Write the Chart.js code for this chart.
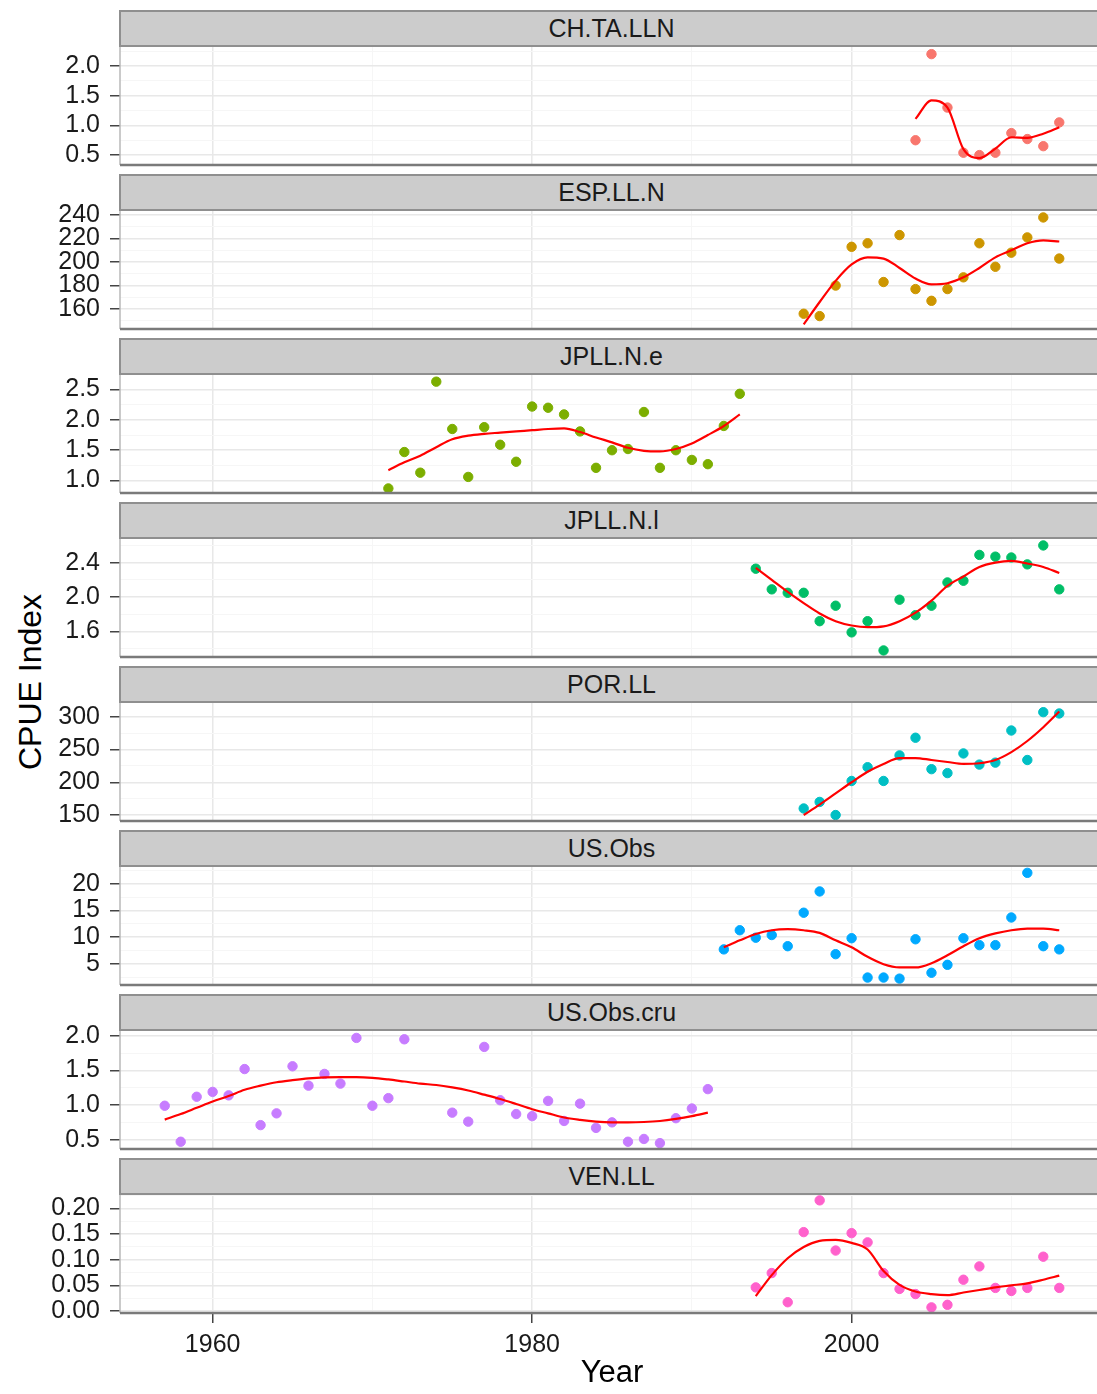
<!DOCTYPE html>
<html>
<head>
<meta charset="utf-8">
<title>CPUE Index by fleet</title>
<script src="https://cdn.jsdelivr.net/npm/chart.js@4.4.1/dist/chart.umd.min.js"></script>
<style>
  html, body { margin: 0; padding: 0; background: #fff; overflow: hidden; }
  body { width: 1097px; height: 1394px; position: relative; font-family: 'Liberation Sans', Arial, sans-serif; }
  .panel { position: absolute; left: 0; width: 1110px; }
  .panel canvas { display: block; }
  .strip {
    position: absolute; left: 119px; width: 985px; height: 37px; box-sizing: border-box;
    background: #cccccc; border: 2px solid #8f8f8f; color: #1a1a1a;
    font-size: 25px; line-height: 33px; text-align: center;
  }
  #ytitle {
    position: absolute; left: 30px; top: 682px; transform: translate(-50%, -50%) rotate(-90deg);
    font-size: 32px; color: #000; white-space: nowrap;
  }
</style>
</head>
<body>
<div id="ytitle">CPUE Index</div>
<script>
// facet labels, in plotting order
const fleets = ['CH.TA.LLN', 'ESP.LL.N', 'JPLL.N.e', 'JPLL.N.l', 'POR.LL', 'US.Obs', 'US.Obs.cru', 'VEN.LL'];
const fleetColors = ['#F8766D', '#CD9600', '#7CAE00', '#00BE67', '#00BFC4', '#00A9FF', '#C77CFF', '#FF61CC'];

// shared year axis
const yearTicks = [1960, 1980, 2000];
const yearMinor = [1970, 1990, 2010];

// CH.TA.LLN
const chYears  = [2004, 2005, 2006, 2007, 2008, 2009, 2010, 2011, 2012, 2013];
const chCpue   = [0.75, 2.2, 1.3, 0.54, 0.5, 0.54, 0.87, 0.77, 0.65, 1.05];
const chSmooth = [1.11, 1.42, 1.3, 0.6, 0.45, 0.61, 0.8, 0.79, 0.86, 0.97];
const chTicks  = ['0.5', '1.0', '1.5', '2.0'];
const chMinor  = [0.75, 1.25, 1.75, 2.25];

// ESP.LL.N
const espYears  = [1997, 1998, 1999, 2000, 2001, 2002, 2003, 2004, 2005, 2006, 2007, 2008, 2009, 2010, 2011, 2012, 2013];
const espCpue   = [156, 154, 180, 213, 216, 183, 223, 177, 167, 177, 187, 216, 196, 208, 221, 238, 203];
const espSmooth = [147, 166, 184, 198, 204, 203, 195, 186, 181, 182, 187, 195, 204, 210, 216, 218.5, 217.5];
const espTicks  = ['160', '180', '200', '220', '240'];
const espMinor  = [150, 170, 190, 210, 230];

// JPLL.N.e
const jpeYears  = [1971, 1972, 1973, 1974, 1975, 1976, 1977, 1978, 1979, 1980, 1981, 1982,
                   1983, 1984, 1985, 1986, 1987, 1988, 1989, 1990, 1991, 1992, 1993];
const jpeCpue   = [0.87, 1.47, 1.13, 2.63, 1.85, 1.06, 1.88, 1.59, 1.31, 2.22, 2.2, 2.09,
                   1.81, 1.21, 1.5, 1.52, 2.13, 1.21, 1.5, 1.34, 1.27, 1.9, 2.43];
const jpeSmooth = [1.17, 1.3, 1.41, 1.55, 1.68, 1.74, 1.77, 1.79, 1.81, 1.83, 1.85, 1.86,
                   1.8, 1.71, 1.63, 1.54, 1.49, 1.48, 1.52, 1.61, 1.75, 1.9, 2.09];
const jpeTicks  = ['1.0', '1.5', '2.0', '2.5'];
const jpeMinor  = [1.25, 1.75, 2.25];

// JPLL.N.l
const jplYears  = [1994, 1995, 1996, 1997, 1998, 1999, 2000, 2001, 2002, 2003,
                   2004, 2005, 2006, 2007, 2008, 2009, 2010, 2011, 2012, 2013];
const jplCpue   = [2.33, 2.09, 2.05, 2.05, 1.72, 1.9, 1.59, 1.72, 1.38, 1.97,
                   1.79, 1.9, 2.17, 2.19, 2.49, 2.47, 2.46, 2.38, 2.6, 2.09];
const jplSmooth = [2.34, 2.2, 2.06, 1.93, 1.81, 1.72, 1.67, 1.65, 1.66, 1.72,
                   1.82, 1.96, 2.13, 2.24, 2.35, 2.4, 2.42, 2.39, 2.35, 2.28];
const jplTicks  = ['1.6', '2.0', '2.4'];
const jplMinor  = [1.4, 1.8, 2.2, 2.6];

// POR.LL
const porYears  = [1997, 1998, 1999, 2000, 2001, 2002, 2003, 2004, 2005, 2006, 2007, 2008, 2009, 2010, 2011, 2012, 2013];
const porCpue   = [160, 170, 150, 202, 223, 202, 241, 268, 220, 214, 244, 227, 230, 279, 234, 307, 305];
const porSmooth = [150, 166, 183, 200, 216, 228, 237, 237, 234, 231, 228, 229, 234, 246, 263, 284, 308];
const porTicks  = ['150', '200', '250', '300'];
const porMinor  = [175, 225, 275];

// US.Obs
const usYears  = [1992, 1993, 1994, 1995, 1996, 1997, 1998, 1999, 2000, 2001, 2002,
                  2003, 2004, 2005, 2006, 2007, 2008, 2009, 2010, 2011, 2012, 2013];
const usCpue   = [7.7, 11.3, 9.9, 10.4, 8.3, 14.6, 18.6, 6.8, 9.8, 2.4, 2.4,
                  2.2, 9.6, 3.3, 4.8, 9.8, 8.5, 8.5, 13.7, 22.1, 8.3, 7.7];
const usSmooth = [8.1, 9.4, 10.6, 11.3, 11.5, 11.3, 10.8, 9.4, 8.1, 6.3, 4.9,
                  4.3, 4.3, 5.1, 6.6, 8.3, 9.8, 10.7, 11.3, 11.6, 11.6, 11.3];
const usTicks  = ['5', '10', '15', '20'];
const usMinor  = [2.5, 7.5, 12.5, 17.5, 22.5];

// US.Obs.cru (no values for 1973, 1974)
const cruYears  = [1957, 1958, 1959, 1960, 1961, 1962, 1963, 1964, 1965, 1966, 1967, 1968,
                   1969, 1970, 1971, 1972, 1973, 1974, 1975, 1976, 1977, 1978, 1979, 1980,
                   1981, 1982, 1983, 1984, 1985, 1986, 1987, 1988, 1989, 1990, 1991];
const cruCpue   = [0.99, 0.47, 1.12, 1.19, 1.14, 1.52, 0.71, 0.88, 1.56, 1.28, 1.45, 1.31,
                   1.97, 0.99, 1.1, 1.95, null, null, 0.89, 0.76, 1.84, 1.07, 0.87, 0.84,
                   1.06, 0.77, 1.02, 0.67, 0.75, 0.47, 0.51, 0.45, 0.81, 0.95, 1.23];
const cruSmooth = [0.79, 0.87, 0.96, 1.05, 1.13, 1.22, 1.28, 1.33, 1.36, 1.385, 1.4, 1.404,
                   1.404, 1.394, 1.37, 1.34, 1.31, 1.29, 1.255, 1.21, 1.15, 1.087, 1.015, 0.94,
                   0.88, 0.82, 0.785, 0.76, 0.75, 0.75, 0.755, 0.77, 0.8, 0.84, 0.89];
const cruTicks  = ['0.5', '1.0', '1.5', '2.0'];
const cruMinor  = [0.75, 1.25, 1.75];

// VEN.LL
const venYears  = [1994, 1995, 1996, 1997, 1998, 1999, 2000, 2001, 2002, 2003,
                   2004, 2005, 2006, 2007, 2008, 2009, 2010, 2011, 2012, 2013];
const venCpue   = [0.046, 0.074, 0.017, 0.154, 0.216, 0.118, 0.152, 0.134, 0.074, 0.043,
                   0.033, 0.007, 0.012, 0.061, 0.087, 0.045, 0.039, 0.045, 0.106, 0.045];
const venSmooth = [0.029, 0.07, 0.103, 0.125, 0.137, 0.139, 0.133, 0.12, 0.078, 0.051,
                   0.038, 0.033, 0.031, 0.036, 0.041, 0.046, 0.05, 0.054, 0.061, 0.069];
const venTicks  = ['0.00', '0.05', '0.10', '0.15', '0.20'];
const venMinor  = [0.025, 0.075, 0.125, 0.175, 0.225];

// free y range of each facet
const panels = [
  { years: chYears,  cpue: chCpue,  smooth: chSmooth,  ticks: chTicks,  minor: chMinor,  min: 0.333, max: 2.32 },
  { years: espYears, cpue: espCpue, smooth: espSmooth, ticks: espTicks, minor: espMinor, min: 143,   max: 243.5 },
  { years: jpeYears, cpue: jpeCpue, smooth: jpeSmooth, ticks: jpeTicks, minor: jpeMinor, min: 0.795, max: 2.74 },
  { years: jplYears, cpue: jplCpue, smooth: jplSmooth, ticks: jplTicks, minor: jplMinor, min: 1.304, max: 2.675 },
  { years: porYears, cpue: porCpue, smooth: porSmooth, ticks: porTicks, minor: porMinor, min: 140.9, max: 321 },
  { years: usYears,  cpue: usCpue,  smooth: usSmooth,  ticks: usTicks,  minor: usMinor,  min: 1.0,   max: 23.2 },
  { years: cruYears, cpue: cruCpue, smooth: cruSmooth, ticks: cruTicks, minor: cruMinor, min: 0.365, max: 2.07 },
  { years: venYears, cpue: venCpue, smooth: venSmooth, ticks: venTicks, minor: venMinor, min: -0.004, max: 0.2265 }
];

const FONT = "'Liberation Sans', Arial, sans-serif";
// padding kept larger than the y labels' own padding so the plot box stays put
const PITCH = 164, FIRST_PLOT_TOP = 47, PLOT_H = 118, PAD = 34;

let panelBorder = {
  id: 'panelBorder',
  afterDraw(chart) {
    let { ctx, chartArea: a } = chart;
    ctx.save();
    ctx.strokeStyle = '#b8b8b8';
    ctx.lineWidth = 1.5;
    ctx.beginPath();
    ctx.moveTo(a.left, a.top);
    ctx.lineTo(a.left, a.bottom);
    ctx.stroke();
    ctx.strokeStyle = '#7a7a7a';
    ctx.lineWidth = 2.5;
    ctx.beginPath();
    ctx.moveTo(a.left, a.bottom);
    ctx.lineTo(a.right, a.bottom);
    ctx.stroke();
    ctx.restore();
  }
};

// merge major and minor breaks into one tick list
let makeTicks = (major, minor) =>
  major.map(v => ({ value: v, minor: false }))
    .concat(minor.map(v => ({ value: v, minor: true })))
    .sort((a, b) => a.value - b.value);

let isMinor = ctx => ctx.tick && ctx.tick.minor;

panels.forEach((p, i) => {
  let last = i === panels.length - 1;
  let plotTop = FIRST_PLOT_TOP + PITCH * i;
  let canvasTop = plotTop - PAD;
  let canvasH = last ? 1394 - canvasTop : PLOT_H + 2 * PAD;

  let strip = document.createElement('div');
  strip.className = 'strip';
  strip.style.top = (plotTop - 37) + 'px';
  strip.textContent = fleets[i];

  let wrap = document.createElement('div');
  wrap.className = 'panel';
  wrap.style.top = canvasTop + 'px';
  wrap.style.height = canvasH + 'px';
  let canvas = document.createElement('canvas');
  canvas.width = 1110;
  canvas.height = canvasH;
  wrap.appendChild(canvas);
  document.body.appendChild(wrap);
  document.body.appendChild(strip);

  let tickValues = p.ticks.map(Number);
  let points = p.years.map((yr, k) => ({ x: yr, y: p.cpue[k] })).filter(d => d.y !== null);
  let curve = p.years.map((yr, k) => ({ x: yr, y: p.smooth[k] }));

  new Chart(canvas, {
    type: 'scatter',
    data: {
      datasets: [
        {
          data: curve,
          showLine: true,
          borderColor: '#FF0000',
          borderWidth: 2.2,
          pointRadius: 0,
          cubicInterpolationMode: 'monotone',
          order: 0
        },
        {
          data: points,
          backgroundColor: fleetColors[i],
          borderColor: fleetColors[i],
          borderWidth: 1,
          pointRadius: 4.7,
          pointHoverRadius: 4.7,
          order: 1
        }
      ]
    },
    options: {
      responsive: false,
      animation: false,
      events: [],
      layout: { padding: { left: 0, right: 6, top: PAD, bottom: last ? 0 : PAD } },
      plugins: { legend: { display: false }, tooltip: { enabled: false } },
      scales: {
        x: {
          type: 'linear',
          min: 1954.2,
          max: 2015.8,
          afterBuildTicks: s => { s.ticks = makeTicks(yearTicks, yearMinor); },
          afterFit: s => { s.height = last ? 81 : 0; },
          border: { display: false },
          grid: {
            color: ctx => isMinor(ctx) ? '#f6f6f6' : '#e8e8e8',
            lineWidth: ctx => isMinor(ctx) ? 1 : 1.5,
            drawTicks: last,
            tickLength: 10,
            tickWidth: 1.5,
            tickColor: ctx => isMinor(ctx) ? 'rgba(0,0,0,0)' : '#444'
          },
          ticks: {
            display: last,
            autoSkip: false,
            maxRotation: 0,
            padding: 7,
            color: '#1a1a1a',
            font: { family: FONT, size: 25 },
            callback: v => yearTicks.includes(v) ? String(v) : ''
          },
          title: {
            display: last,
            text: 'Year',
            color: '#000',
            font: { family: FONT, size: 31 },
            padding: { top: 0, bottom: 2 }
          }
        },
        y: {
          min: p.min,
          max: p.max,
          afterBuildTicks: s => { s.ticks = makeTicks(tickValues, p.minor); },
          afterFit: s => { s.width = 120; },
          border: { display: false },
          grid: {
            color: ctx => isMinor(ctx) ? '#f6f6f6' : '#e8e8e8',
            lineWidth: ctx => isMinor(ctx) ? 1 : 1.5,
            tickLength: 10,
            tickWidth: 1.5,
            tickColor: ctx => isMinor(ctx) ? 'rgba(0,0,0,0)' : '#444'
          },
          ticks: {
            autoSkip: false,
            padding: 10,
            color: '#1a1a1a',
            font: { family: FONT, size: 25 },
            callback: v => {
              let k = tickValues.indexOf(v);
              return k < 0 ? '' : p.ticks[k];
            }
          }
        }
      }
    },
    plugins: [panelBorder]
  });
});
</script>
</body>
</html>
